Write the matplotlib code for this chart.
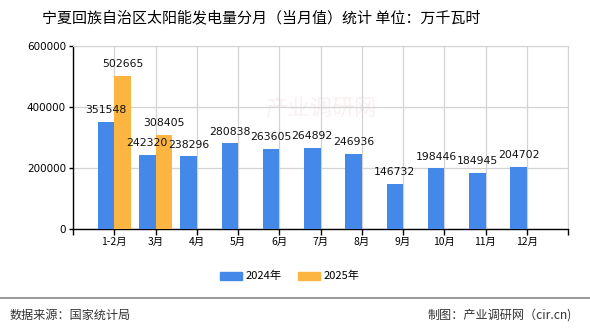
import matplotlib
matplotlib.use("Agg")
import matplotlib.pyplot as plt
from matplotlib.patches import Rectangle
from matplotlib.lines import Line2D
import numpy as np

plt.rcParams['font.family'] = ['Noto Sans CJK SC', 'DejaVu Sans']

categories = ['1-2月', '3月', '4月', '5月', '6月', '7月', '8月', '9月', '10月', '11月', '12月']
values_2024 = [351548, 242320, 238296, 280838, 263605, 264892, 246936, 146732, 198446, 184945, 204702]
values_2025 = [502665, 308405]
series_names = ['2024年', '2025年']
y_ticks = [0, 200000, 400000, 600000]

title = '宁夏回族自治区太阳能发电量分月（当月值）统计 单位：万千瓦时'
source = '数据来源：国家统计局'
credit = '制图：产业调研网（cir.cn)'

c_blue = '#4489ea'
c_orange = '#fbb540'

W, H = 590, 330
fig = plt.figure(figsize=(W / 100, H / 100), dpi=100)
ax = fig.add_axes([73 / W, 1 - 229 / H, (568 - 73) / W, (229 - 46) / H])

bw = 0.4
x24 = np.arange(len(values_2024))
x25 = np.arange(len(values_2025))
ax.bar(x24 - bw / 2, values_2024, width=bw, color=c_blue, zorder=3)
ax.bar(x25 + bw / 2, values_2025, width=bw, color=c_orange, zorder=3)

for xi, v in zip(x24, values_2024):
    ax.annotate(str(v), (xi - bw / 2, v), xytext=(0, 8.5), textcoords='offset points',
                ha='center', va='center', fontsize=7.8, family='DejaVu Sans', color='#111111', zorder=5)
for xi, v in zip(x25, values_2025):
    ax.annotate(str(v), (xi + bw / 2, v), xytext=(0, 8.5), textcoords='offset points',
                ha='center', va='center', fontsize=7.8, family='DejaVu Sans', color='#111111', zorder=5)

ax.set_xlim(-1, len(categories))
ax.set_ylim(0, 600000)
ax.set_xticks(np.arange(-1, len(categories) + 1))
ax.set_xticklabels([''] + categories + [''], fontsize=7.5)
ax.set_yticks(y_ticks)
ax.set_yticklabels([str(t) for t in y_ticks], fontsize=7.5, family='DejaVu Sans')
ax.tick_params(axis='x', length=4, width=1, color='#000000', pad=2)
ax.tick_params(axis='y', length=3, width=1, color='#000000', pad=2)
ax.grid(True, color='#d3d3d3', linewidth=0.9, zorder=0)
for s in ['top', 'right']:
    ax.spines[s].set_color('#d3d3d3')
for s in ['left', 'bottom']:
    ax.spines[s].set_color('#000000')
    ax.spines[s].set_linewidth(1)

# watermark
ax.text(0.5, 0.66, '产业调研网', transform=ax.transAxes, fontsize=16, color='#f9f1f1',
        ha='center', va='center', zorder=1)

fig.text(261 / W, 1 - 18 / H, title, ha='center', va='center', fontsize=10.8,
         color='#000000')

# legend
leg_y = 1 - 276 / H
fig.patches.append(Rectangle((220 / W, leg_y - 4 / H), 22 / W, 8 / H, transform=fig.transFigure,
                             color=c_blue))
fig.text(246 / W, leg_y, series_names[0], ha='left', va='center', fontsize=8)
fig.patches.append(Rectangle((298 / W, leg_y - 4 / H), 22 / W, 8 / H, transform=fig.transFigure,
                             color=c_orange))
fig.text(324 / W, leg_y, series_names[1], ha='left', va='center', fontsize=8)

fig.lines.append(Line2D([0, 1], [1 - 298 / H, 1 - 298 / H], transform=fig.transFigure,
                        color='#888888', linewidth=1.2))
fig.text(10 / W, 1 - 315 / H, source, ha='left', va='center', fontsize=8.7, color='#333333')
fig.text(572 / W, 1 - 315 / H, credit, ha='right', va='center', fontsize=8.7, color='#333333')

fig.savefig('out.png', dpi=100)
